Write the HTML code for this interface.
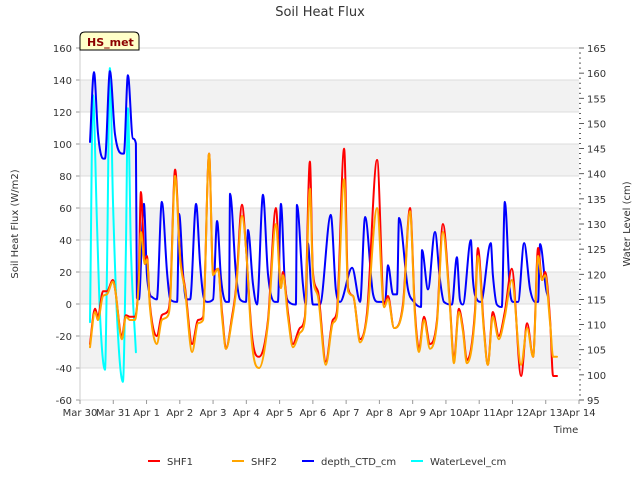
<!DOCTYPE html>
<html><head><meta charset="utf-8"><style>
body{margin:0;background:#fff;font-family:"Liberation Sans","DejaVu Sans",sans-serif}
svg text{font-family:"DejaVu Sans","Liberation Sans",sans-serif}
</style></head><body>
<svg id="c" width="640" height="480" xmlns="http://www.w3.org/2000/svg">
<text x="320" y="16" text-anchor="middle" font-size="13" fill="#333">Soil Heat Flux</text>
<g id="bands"></g><g id="axes"></g><g id="series"></g>
<g>
<path d="M80,50 L80,37 Q80,32 85,32 L134,32 Q139,32 139,37 L139,50 Z" fill="#ffffc8" stroke="#000" stroke-width="1"/>
<text x="87" y="46" font-size="11" font-weight="bold" fill="#8b0000">HS_met</text></g>
<text x="566" y="433" text-anchor="middle" font-size="10" fill="#333">Time</text>
<text transform="translate(18,224) rotate(-90)" text-anchor="middle" font-size="10" fill="#333">Soil Heat Flux (W/m2)</text>
<text transform="translate(630,224) rotate(-90)" text-anchor="middle" font-size="10" fill="#333">Water Level (cm)</text>
<g id="legend"></g>
</svg>
<script>
const xTicks=["Mar 30","Mar 31","Apr 1","Apr 2","Apr 3","Apr 4","Apr 5","Apr 6","Apr 7","Apr 8","Apr 9","Apr 10","Apr 11","Apr 12","Apr 13","Apr 14"];
const leftTicks=[-60,-40,-20,0,20,40,60,80,100,120,140,160];
const rightTicks=[95,100,105,110,115,120,125,130,135,140,145,150,155,160,165];
const shf1T=[0.30,0.45,0.54,0.69,0.81,0.99,1.05,1.26,1.38,1.50,1.65,1.77,1.83,1.95,2.01,2.10,2.31,2.46,2.62,2.71,2.86,3.01,3.16,3.37,3.55,3.70,3.88,4.00,4.15,4.27,4.39,4.57,4.69,4.87,4.99,5.17,5.38,5.65,5.89,6.04,6.10,6.25,6.40,6.61,6.76,6.91,7.00,7.15,7.39,7.60,7.72,7.94,8.06,8.21,8.42,8.63,8.93,9.14,9.26,9.44,9.71,9.92,10.07,10.19,10.34,10.52,10.73,10.91,11.12,11.24,11.39,11.51,11.63,11.87,11.96,12.14,12.26,12.41,12.59,12.77,12.98,13.26,13.44,13.62,13.77,13.89,13.98,14.13,14.22,14.34];
const shf1V=[-25,-3,-8,8,8,15,10,-20,-7,-8,-8,20,70,25,30,0,-20,-7,-5,5,84,30,10,-25,-10,-8,94,20,22,-5,-28,-8,10,62,35,-20,-33,-10,60,10,20,-5,-25,-15,-8,89,20,8,-36,-10,-5,97,10,5,-22,-5,90,0,5,-15,0,60,-5,-28,-8,-25,-10,50,0,-35,-3,-15,-35,-5,35,-15,-38,-5,-20,-5,22,-45,-12,-33,35,15,20,-10,-45,-45];
const shf2V=[-27,-5,-10,5,6,14,10,-22,-8,-10,-10,15,45,25,28,-2,-25,-10,-8,2,80,28,8,-30,-12,-10,94,18,22,-8,-28,-10,8,55,35,-25,-40,-12,50,10,18,-8,-27,-18,-10,72,18,5,-38,-12,-8,78,8,5,-24,-8,60,-2,3,-15,-2,58,-8,-30,-10,-28,-12,45,-2,-37,-5,-17,-37,-8,30,-17,-38,-8,-22,-8,15,-38,-15,-33,30,15,18,-12,-33,-33];
const ctdT=[0.30,0.42,0.54,0.69,0.75,0.90,1.05,1.26,1.32,1.44,1.59,1.68,1.71,1.77,1.92,2.01,2.10,2.16,2.31,2.46,2.62,2.71,2.92,2.98,3.10,3.19,3.31,3.49,3.61,3.70,3.82,4.00,4.12,4.24,4.39,4.48,4.51,4.69,4.81,4.99,5.05,5.20,5.32,5.50,5.65,5.86,5.95,6.04,6.16,6.28,6.49,6.52,6.70,6.79,6.85,6.94,7.00,7.21,7.54,7.69,7.82,8.18,8.42,8.57,8.81,8.96,9.17,9.26,9.41,9.53,9.59,9.86,10.04,10.25,10.28,10.46,10.67,10.82,10.94,11.18,11.33,11.42,11.51,11.75,11.81,11.93,12.05,12.35,12.41,12.53,12.68,12.77,12.92,13.02,13.17,13.35,13.53,13.68,13.77,13.83,14.01,14.07];
const ctdV=[146.3,160.2,148,143,143,160.4,148,144,144,159.6,147,146,115.3,115,134,120,116,115.5,115,134.4,120,115,114.5,132,120,115,115,134,122,116,114.5,115,130.6,119,114.5,114.5,136,120,115,114.5,128.8,118,114,135.8,120,114.5,114.5,134,118,114.5,114,133.8,118,114,126.2,118,114,114,131.8,117,114.5,121.3,114.5,131.4,116,114.5,114.5,121.8,116,116,131.2,117,114.5,113.5,124.8,117,128.4,119,114.5,114,123.4,115,114,126.8,119,115,114.5,126.2,120,114,113.5,134.4,117,114.5,114.5,126.2,117,114.5,114.5,126,117,115.5];
const wlT=[0.30,0.39,0.51,0.60,0.75,0.81,0.90,0.99,1.11,1.29,1.38,1.44,1.53,1.68];
const wlV=[110.5,155.6,130,112,101,120,161,135,112,98.6,125,153,125,104.5];

const NS="http://www.w3.org/2000/svg";
const X0=80,X1=579,Y0=48,Y1=400;
const xs=d=>X0+d*(X1-X0)/15;
const yl=v=>Y0+(160-v)*(Y1-Y0)/220;
const yr=v=>Y0+(165-v)*(Y1-Y0)/70;
function mk(tag,attrs,parent){const e=document.createElementNS(NS,tag);for(const k in attrs)e.setAttribute(k,attrs[k]);parent.appendChild(e);return e;}
const bands=document.getElementById('bands'),axes=document.getElementById('axes'),series=document.getElementById('series'),legend=document.getElementById('legend');
for(let i=0;i<leftTicks.length-1;i++){
  if(i%2===1){const b=mk('rect',{x:X0,y:yl(leftTicks[i+1]),width:X1-X0,height:yl(leftTicks[i])-yl(leftTicks[i+1]),fill:'#f2f2f2'},bands);
  
  }
}
leftTicks.forEach(v=>{
  const g=mk('line',{x1:X0,x2:X1,y1:yl(v),y2:yl(v),stroke:'#dcdcdc','stroke-width':1},bands);
  
  
  mk('line',{x1:X0-4,x2:X0,y1:yl(v),y2:yl(v),stroke:'#999'},axes);
  const t=mk('text',{x:X0-8,y:yl(v)+4,'text-anchor':'end','font-size':10,fill:'#333'},axes);t.textContent=v;
  
  
});
for(let v=95;v<=165;v++){mk('line',{x1:X1,x2:X1+(v%5===0?5:2),y1:yr(v),y2:yr(v),stroke:'#333','stroke-width':0.8},axes);}
rightTicks.forEach(v=>{const t=mk('text',{x:X1+8,y:yr(v)+4,'font-size':10,fill:'#333'},axes);t.textContent=v;
  
  });
mk('line',{x1:X0,x2:X0,y1:Y0,y2:Y1,stroke:'#ccc'},axes);
xTicks.forEach((s,i)=>{mk('line',{x1:xs(i),x2:xs(i),y1:Y1,y2:Y1+4,stroke:'#999'},axes);
  const t=mk('text',{x:xs(i),y:Y1+16,'text-anchor':'middle','font-size':10,fill:'#333'},axes);t.textContent=s;
  
  });
function smoothPath(P){
  const n=P.length;if(n<2)return '';
  const dx=[],m=[],t=new Array(n);
  for(let i=0;i<n-1;i++){dx[i]=P[i+1][0]-P[i][0];m[i]=(P[i+1][1]-P[i][1])/(dx[i]||1e-6);}
  t[0]=m[0];t[n-1]=m[n-2];
  for(let i=1;i<n-1;i++){t[i]=(m[i-1]*m[i]<=0)?0:(m[i-1]+m[i])/2;}
  for(let i=0;i<n-1;i++){if(m[i]===0){t[i]=0;t[i+1]=0;continue;}
    const a=t[i]/m[i],b=t[i+1]/m[i],s=a*a+b*b;if(s>9){const k=3/Math.sqrt(s);t[i]=k*a*m[i];t[i+1]=k*b*m[i];}}
  let d='M'+P[0][0].toFixed(1)+','+P[0][1].toFixed(1);
  for(let i=0;i<n-1;i++){const h=dx[i]/3;
    d+=' C'+(P[i][0]+h).toFixed(1)+','+(P[i][1]+t[i]*h).toFixed(1)+' '+(P[i+1][0]-h).toFixed(1)+','+(P[i+1][1]-t[i+1]*h).toFixed(1)+' '+P[i+1][0].toFixed(1)+','+P[i+1][1].toFixed(1);}
  return d;
}
function line(T,V,yf,color,name){
  const pts=T.map((t,i)=>[xs(t),yf(V[i])]);
  const p=mk('path',{d:smoothPath(pts),fill:'none',stroke:color,'stroke-width':2,'stroke-linejoin':'round','stroke-linecap':'round'},series);
  
  
}
line(wlT,wlV,yr,'#00ffff','waterlevel-line');
line(ctdT,ctdV,yr,'#0000ff','depth-ctd-line');
line(shf1T,shf1V,yl,'#ff0000','shf1-line');
line(shf1T,shf2V,yl,'#ffa500','shf2-line');
const leg=[['SHF1','#ff0000',148],['SHF2','#ffa500',232],['depth_CTD_cm','#0000ff',302],['WaterLevel_cm','#00ffff',411]];
leg.forEach(([n,c,x])=>{const g=mk('g',{},legend);
  
  
  mk('line',{x1:x,x2:x+12,y1:461,y2:461,stroke:c,'stroke-width':2},g);
  const t=mk('text',{x:x+19,y:465,'font-size':10,fill:'#333'},g);t.textContent=n;});
</script>
</body></html>
